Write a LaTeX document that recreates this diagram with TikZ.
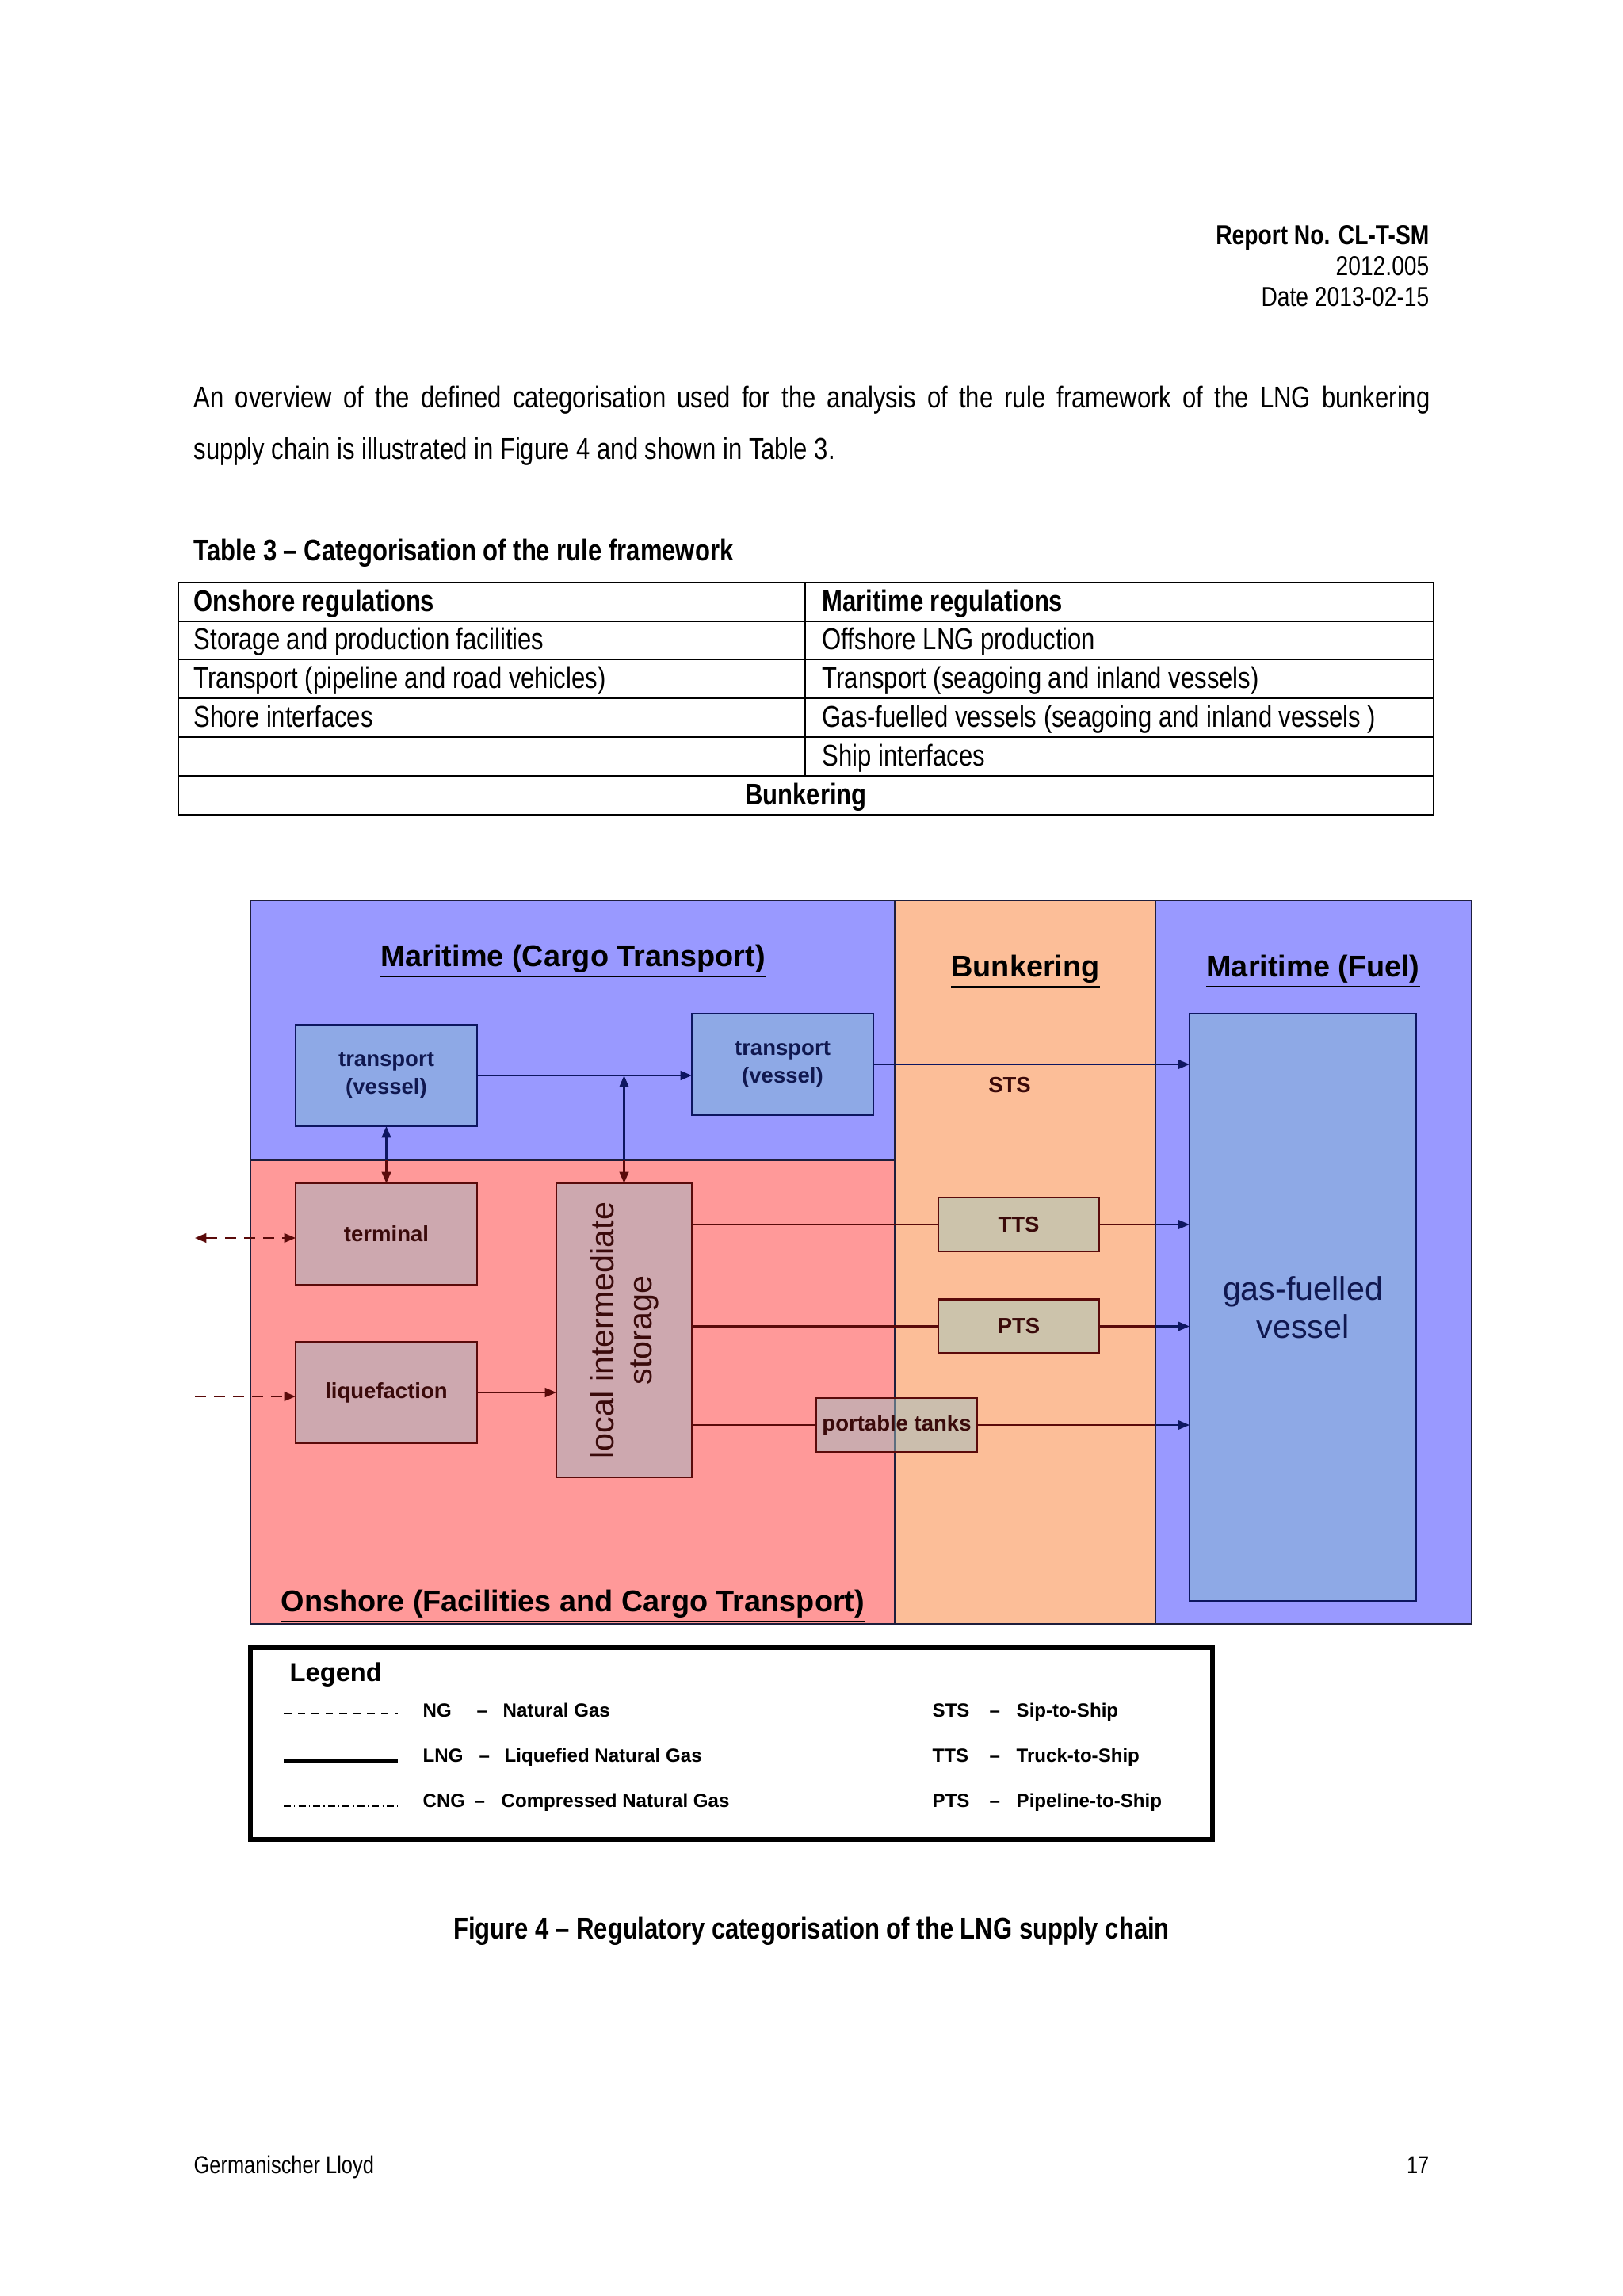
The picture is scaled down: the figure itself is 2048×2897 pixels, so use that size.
\documentclass[tikz,border=0pt]{standalone}
\usepackage{fontspec}
\setmainfont{Liberation Sans}
\newfontfamily\narrowfont{Liberation Sans}[FakeStretch=0.82]
\usepackage{xcolor}
\usetikzlibrary{arrows.meta,positioning,calc}
\definecolor{seablue}{HTML}{9999FF}
\definecolor{landred}{HTML}{FF9999}
\definecolor{bunkorange}{HTML}{FCBE98}
\definecolor{vesselblue}{HTML}{8EA9E6}
\definecolor{plantpink}{HTML}{CDA8AF}
\definecolor{transfertan}{HTML}{CCC3AB}
\definecolor{tankgrey}{HTML}{9BBEC3}
\definecolor{navyline}{HTML}{0D1660}
\definecolor{navytext}{HTML}{101850}
\definecolor{maroonline}{HTML}{5A0A0A}
\definecolor{maroontext}{HTML}{3A0A0A}
\definecolor{edgegrey}{HTML}{1E1E3C}
\newdimen\pxu \pxu=0.2906pt

\begin{document}
\begin{tikzpicture}[x=0.2906pt,y=-0.2906pt,>={Triangle[length=4.2pt,width=3.4pt]},
  pagetext/.style={font=\narrowfont\fontsize{11}{13}\selectfont,inner sep=0,anchor=base west},
  headtext/.style={font=\narrowfont\fontsize{10}{12}\selectfont,inner sep=0,anchor=base east},
  regiontitle/.style={font=\bfseries\fontsize{11}{13}\selectfont,inner sep=0,anchor=base},
  box/.style={draw,line width=0.8pt,inner sep=0,outer sep=0,align=center,font=\bfseries\fontsize{8}{10}\selectfont},
  seabox/.style={box,fill=vesselblue,draw=navyline,text=navytext},
  landbox/.style={box,fill=plantpink,draw=maroonline,text=maroontext},
  linkbox/.style={box,fill=transfertan,draw=maroonline,text=maroontext},
  sealink/.style={navyline,line width=0.6pt},
  landlink/.style={maroonline,line width=0.6pt},
  gaslink/.style={maroonline,line width=0.6pt,dash pattern=on 4pt off 3pt},
  legendtext/.style={font=\bfseries\fontsize{7}{8}\selectfont,inner sep=0,anchor=base west}]
  \useasboundingbox[fill=white] (0,0) rectangle (2048,2897);

  % page header and text
  \node[headtext,font=\narrowfont\bfseries\fontsize{10}{12}\selectfont] (repno) at (1804,309) {Report No. CL-T-SM};
  \node[headtext] (repnum) at (1804,348) {2012.005};
  \node[headtext] (repdate) at (1804,387) {Date 2013-02-15};
  \node[pagetext,text width=1560\pxu,align=justify,font=\narrowfont\fontsize{11}{18.6}\selectfont] (intro) at (244,515)
    {An overview of the defined categorisation used for the analysis of the rule framework of the LNG bunkering\linebreak supply chain is illustrated in Figure~4 and shown in Table~3.};
  \node[pagetext,font=\narrowfont\bfseries\fontsize{11}{13}\selectfont] (tabcap) at (244,707) {Table 3 – Categorisation of the rule framework};

  % table
  \draw[line width=0.5pt] (225,735) rectangle (1809,1028);
  \draw[line width=0.5pt] (225,784) -- (1809,784);
  \draw[line width=0.5pt] (225,832) -- (1809,832);
  \draw[line width=0.5pt] (225,881) -- (1809,881);
  \draw[line width=0.5pt] (225,930) -- (1809,930);
  \draw[line width=0.5pt] (225,979) -- (1809,979);
  \draw[line width=0.5pt] (1016,735) -- (1016,979);
  \node[pagetext,font=\narrowfont\bfseries\fontsize{11}{13}\selectfont] (onhead) at (244,771) {Onshore regulations};
  \node[pagetext,font=\narrowfont\bfseries\fontsize{11}{13}\selectfont] (mahead) at (1037,771) {Maritime regulations};
  \node[pagetext] (on1) at (244,819) {Storage and production facilities};
  \node[pagetext] (ma1) at (1037,819) {Offshore LNG production};
  \node[pagetext] (on2) at (244,868) {Transport (pipeline and road vehicles)};
  \node[pagetext] (ma2) at (1037,868) {Transport (seagoing and inland vessels)};
  \node[pagetext] (on3) at (244,917) {Shore interfaces};
  \node[pagetext] (ma3) at (1037,917) {Gas-fuelled vessels (seagoing and inland vessels )};
  \node[pagetext] (ma4) at (1037,966) {Ship interfaces};
  \node[pagetext,anchor=base,font=\narrowfont\bfseries\fontsize{11}{13}\selectfont] (bunkrow) at (1017,1015) {Bunkering};

  % regions
  \fill[seablue] (316,1136) rectangle (1129,1464);
  \fill[landred] (316,1464) rectangle (1129,2049);
  \fill[bunkorange] (1129,1136) rectangle (1458,2049);
  \fill[seablue] (1458,1136) rectangle (1857,2049);
  \draw[edgegrey,line width=0.6pt] (316,1136) rectangle (1857,2049);
  \draw[edgegrey,line width=0.6pt] (1129,1136) -- (1129,2049);
  \draw[edgegrey,line width=0.6pt] (1458,1136) -- (1458,2049);
  \draw[edgegrey,line width=0.6pt] (316,1464) -- (1129,1464);
  \coordinate (seam) at (0,1464);
  \coordinate (fuelW) at (1458,0);

  \node[regiontitle] (cargottl) at (723,1219) {\underline{Maritime (Cargo Transport)}};
  \node[regiontitle] (bunkttl) at (1294,1232) {\underline{Bunkering}};
  \node[regiontitle] (fuelttl) at (1657,1232) {\underline{Maritime (Fuel)}};
  \node[regiontitle] (landttl) at (723,2033) {\underline{Onshore (Facilities and Cargo Transport)}};

  % boxes
  \node[seabox,minimum width=229\pxu,minimum height=128\pxu] (tv1) at (487.5,1357) {transport\\(vessel)};
  \node[seabox,minimum width=229\pxu,minimum height=128\pxu] (tv2) at (987.5,1343) {transport\\(vessel)};
  \node[landbox,minimum width=229\pxu,minimum height=128\pxu] (term) at (487.5,1557) {terminal};
  \node[landbox,minimum width=229\pxu,minimum height=128\pxu] (liq) at (487.5,1757) {liquefaction};
  \node[landbox,minimum width=171\pxu,minimum height=371\pxu] (stor) at (787.5,1678.5) {};
  \node[rotate=90,align=center,text=maroontext,font=\fontsize{12}{14}\selectfont] (storlbl) at (stor.center) {local intermediate\\storage};
  \node[linkbox,minimum width=203\pxu,minimum height=68\pxu] (tts) at (1285.5,1545) {TTS};
  \node[linkbox,minimum width=203\pxu,minimum height=68\pxu] (pts) at (1285.5,1673.5) {PTS};
  \node[seabox,font=\fontsize{12}{14}\selectfont,minimum width=286\pxu,minimum height=741\pxu] (gfv) at (1644,1649.5) {gas-fuelled\\vessel};
  \node[font=\bfseries\fontsize{8}{10}\selectfont,text=maroontext] (stslbl) at (1274,1369) {STS};

  % connectors
  \draw[sealink,->] (tv1.east) -- (tv1.east -| tv2.west);
  \coordinate (jn) at (stor.north |- tv1.east);
  \draw[sealink,->] (stor.north |- seam) -- (jn);
  \draw[landlink,->] (stor.north |- seam) -- (stor.north);
  \draw[sealink,->] (tv1.south |- seam) -- (tv1.south);
  \draw[landlink,->] (tv1.south |- seam) -- (term.north);
  \draw[sealink,->] (tv2.east) -- (tv2.east -| gfv.west);
  \draw[landlink,->] (liq.east) -- (liq.east -| stor.west);
  \draw[landlink] (stor.east |- tts.west) -- (tts.west);
  \draw[landlink] (tts.east) -- (tts.east -| fuelW);
  \draw[sealink,->] (tts.east -| fuelW) -- (tts.east -| gfv.west);
  \draw[landlink] (stor.east |- pts.west) -- (pts.west);
  \draw[landlink] (pts.east) -- (pts.east -| fuelW);
  \draw[sealink,->] (pts.east -| fuelW) -- (pts.east -| gfv.west);
  \node[linkbox,fill=tankgrey,fill opacity=0.5,text opacity=1,minimum width=203\pxu,minimum height=68\pxu] (ptank) at (1131.5,1798) {portable tanks};
  \draw[landlink] (stor.east |- ptank.west) -- (ptank.west);
  \draw[landlink] (ptank.east) -- (ptank.east -| fuelW);
  \draw[sealink,->] (ptank.east -| fuelW) -- (ptank.east -| gfv.west);
  \coordinate (ngterm) at (246,1562);
  \coordinate (ngliq) at (246,1762);
  \draw[gaslink,<->] (ngterm) -- (ngterm -| term.west);
  \draw[gaslink,->] (ngliq) -- (ngliq -| liq.west);

  % legend
  \draw[line width=1.6pt] (316,2079) rectangle (1530,2321);
  \node[font=\bfseries\fontsize{9.5}{11}\selectfont,inner sep=0,anchor=base west] (legttl) at (365,2121) {Legend};
  \draw[line width=0.5pt,dash pattern=on 2.8pt off 2.3pt] (358,2162) -- (502,2162);
  \draw[line width=0.9pt] (358,2222) -- (502,2222);
  \draw[line width=0.5pt,dash pattern=on 2.6pt off 1.2pt on 0.4pt off 1.2pt] (358,2279) -- (502,2279);
  \node[legendtext] (ngab) at (533,2166) {NG};
  \node[legendtext] (ngdash) at (601,2166) {–};
  \node[legendtext] (ngtxt) at (634,2166) {Natural Gas};
  \node[legendtext] (lngab) at (533,2223) {LNG};
  \node[legendtext] (lngdash) at (604,2223) {–};
  \node[legendtext] (lngtxt) at (636,2223) {Liquefied Natural Gas};
  \node[legendtext] (cngab) at (533,2280) {CNG};
  \node[legendtext] (cngdash) at (598,2280) {–};
  \node[legendtext] (cngtxt) at (632,2280) {Compressed Natural Gas};
  \node[legendtext] (stsab) at (1176,2166) {STS};
  \node[legendtext] (stsdash) at (1248,2166) {–};
  \node[legendtext] (ststxt) at (1282,2166) {Sip-to-Ship};
  \node[legendtext] (ttsab) at (1176,2223) {TTS};
  \node[legendtext] (ttsdash) at (1248,2223) {–};
  \node[legendtext] (ttstxt) at (1282,2223) {Truck-to-Ship};
  \node[legendtext] (ptsab) at (1176,2280) {PTS};
  \node[legendtext] (ptsdash) at (1248,2280) {–};
  \node[legendtext] (ptstxt) at (1282,2280) {Pipeline-to-Ship};

  % caption and footer
  \node[pagetext,anchor=base,font=\narrowfont\bfseries\fontsize{11}{13}\selectfont] (figcap) at (1024,2446) {Figure 4 – Regulatory categorisation of the LNG supply chain};
  \node[pagetext,font=\narrowfont\fontsize{9}{11}\selectfont] (foot) at (244,2742) {Germanischer Lloyd};
  \node[headtext,font=\narrowfont\fontsize{9}{11}\selectfont] (pageno) at (1804,2742) {17};
\end{tikzpicture}
\end{document}
